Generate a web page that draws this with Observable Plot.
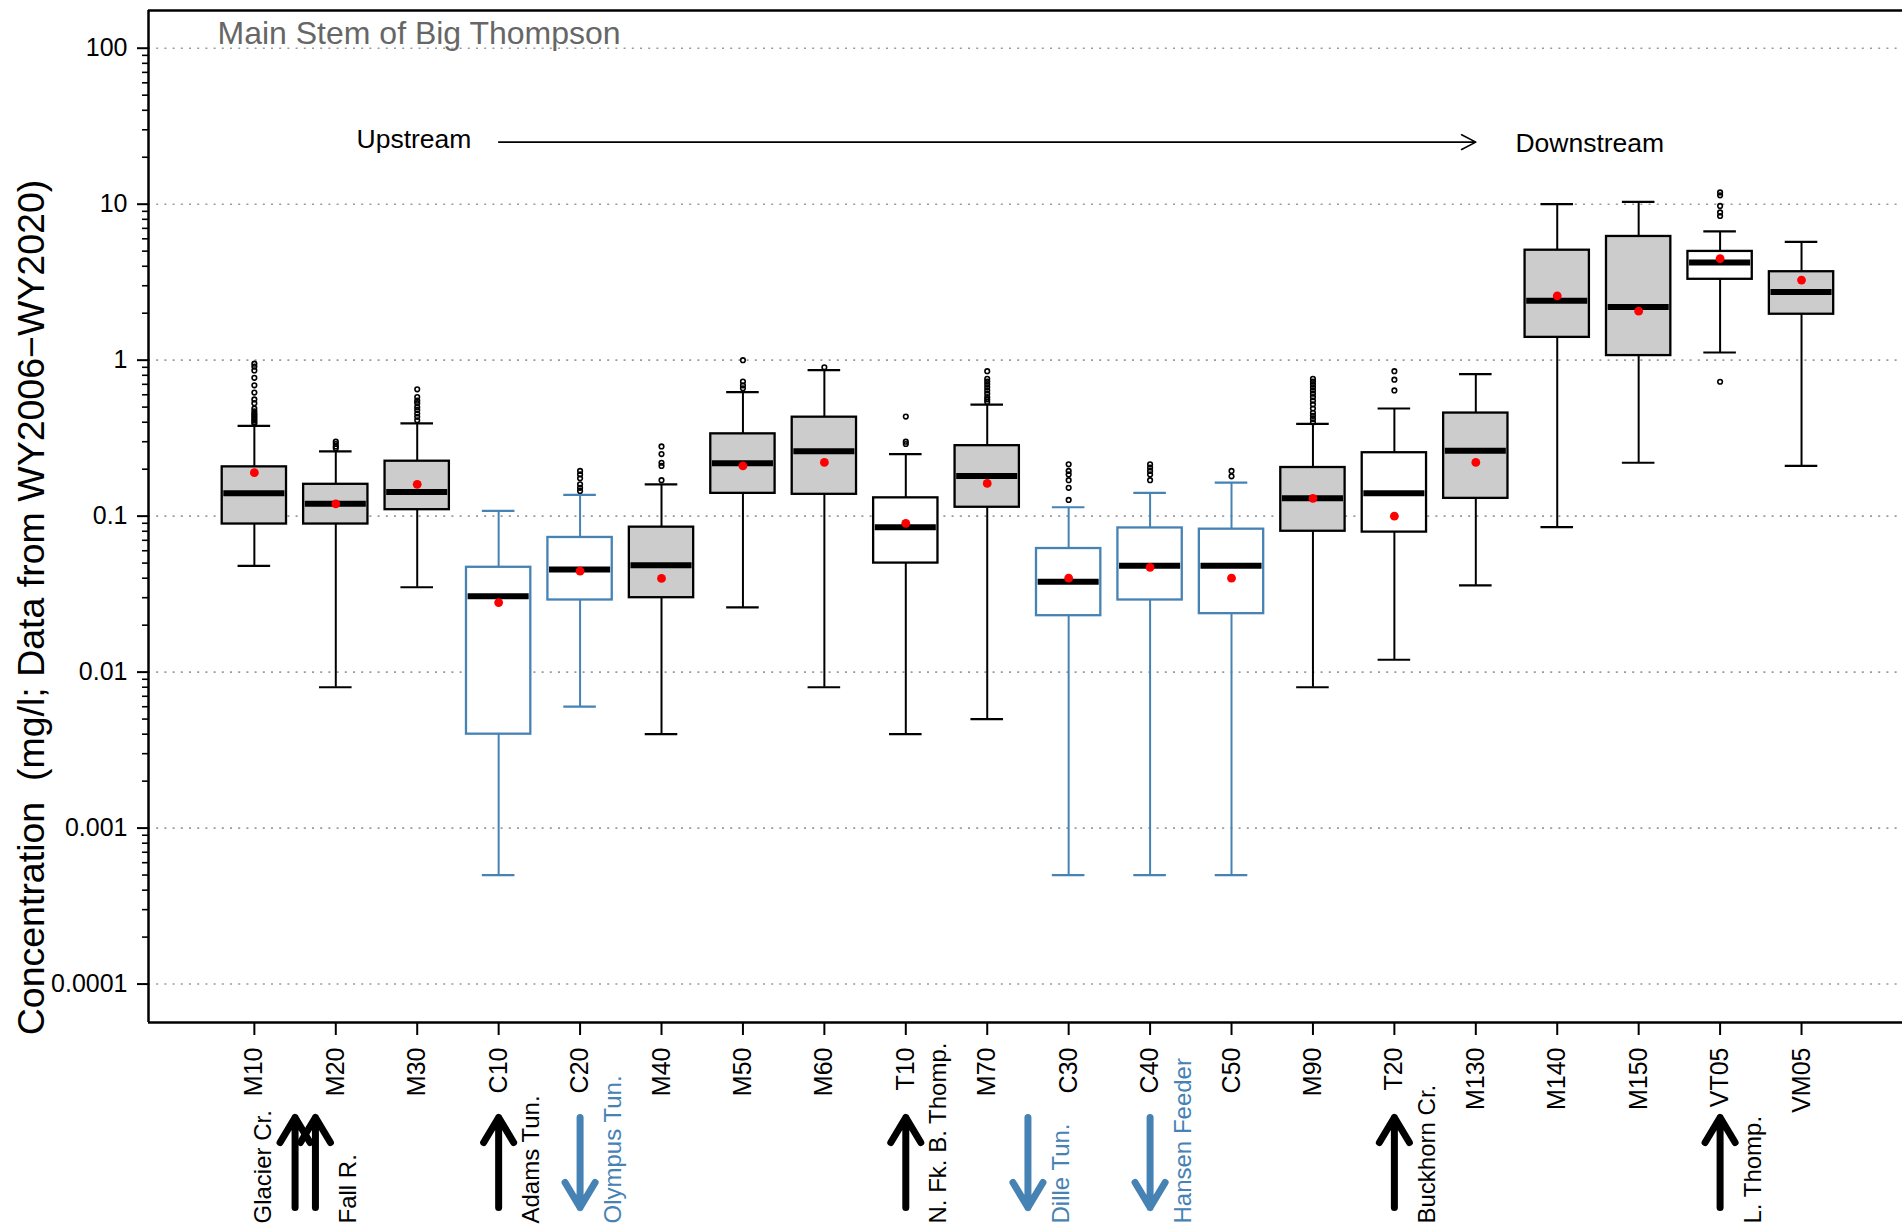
<!DOCTYPE html>
<html>
<head>
<meta charset="utf-8">
<script src="https://cdn.jsdelivr.net/npm/d3@7"></script>
<script src="https://cdn.jsdelivr.net/npm/@observablehq/plot@0.6"></script>
<style>
  html, body { margin: 0; padding: 0; background: #fff; }
  #chart svg { display: block; }
</style>
</head>
<body>
<div id="chart"></div>
<script>
// ---------------- DATA ----------------
const categories = ["M10","M20","M30","C10","C20","M40","M50","M60","T10","M70","C30","C40","C50","M90","T20","M130","M140","M150","VT05","VM05"];

const lowWhisker  = [0.048, 0.008, 0.035, 0.0005, 0.006, 0.004, 0.026, 0.008, 0.004, 0.005, 0.0005, 0.0005, 0.0005, 0.008, 0.012, 0.036, 0.085, 0.22, 1.12, 0.21];
const quartile1   = [0.089, 0.089, 0.110, 0.0040, 0.029, 0.030, 0.140, 0.138, 0.050, 0.114, 0.023, 0.029, 0.0237, 0.080, 0.079, 0.130, 1.40, 1.07, 3.30, 1.97];
const medians     = [0.140, 0.120, 0.143, 0.0306, 0.0455, 0.0485, 0.218, 0.261, 0.085, 0.181, 0.038, 0.048, 0.048, 0.130, 0.140, 0.263, 2.40, 2.19, 4.23, 2.74];
const quartile3   = [0.207, 0.160, 0.225, 0.047, 0.073, 0.085, 0.337, 0.431, 0.131, 0.283, 0.062, 0.084, 0.0825, 0.205, 0.255, 0.458, 5.07, 6.21, 4.98, 3.69];
const highWhisker = [0.379, 0.260, 0.393, 0.108, 0.137, 0.160, 0.623, 0.863, 0.250, 0.519, 0.114, 0.141, 0.164, 0.390, 0.490, 0.814, 10.0, 10.35, 6.69, 5.74];
const means       = [0.190, 0.120, 0.160, 0.0279, 0.0444, 0.0399, 0.210, 0.221, 0.090, 0.162, 0.040, 0.047, 0.040, 0.130, 0.100, 0.221, 2.58, 2.06, 4.48, 3.26];

const outliers = [
  [0.95, 0.91, 0.86, 0.77, 0.69, 0.62, 0.56, 0.53, 0.49, 0.47, 0.455, 0.445, 0.433, 0.423, 0.412, 0.402, 0.392], // M10
  [0.30, 0.29, 0.28, 0.272],                                   // M20
  [0.65, 0.58, 0.55, 0.53, 0.50, 0.48, 0.455, 0.433, 0.412],   // M30
  [],                                                          // C10
  [0.195, 0.185, 0.175, 0.16, 0.152, 0.145],                   // C20
  [0.28, 0.25, 0.22, 0.21, 0.17],                              // M40
  [1.0, 0.73, 0.69, 0.66],                                     // M50
  [0.90],                                                      // M60
  [0.435, 0.30, 0.29],                                         // T10
  [0.85, 0.76, 0.73, 0.70, 0.67, 0.64, 0.61, 0.58, 0.56, 0.54],// M70
  [0.215, 0.195, 0.185, 0.17, 0.152, 0.127],                   // C30
  [0.215, 0.205, 0.195, 0.185, 0.17],                          // C40
  [0.195, 0.18],                                               // C50
  [0.76, 0.73, 0.70, 0.67, 0.64, 0.61, 0.58, 0.55, 0.52, 0.49, 0.46, 0.44, 0.42, 0.40], // M90
  [0.85, 0.75, 0.64],                                          // T20
  [],                                                          // M130
  [],                                                          // M140
  [],                                                          // M150
  [11.9, 11.4, 9.75, 8.85, 8.4, 0.727],                        // VT05
  []                                                           // VM05
];

const yTickValues = [0.0001, 0.001, 0.01, 0.1, 1, 10, 100];
const yTickLabels = ["0.0001", "0.001", "0.01", "0.1", "1", "10", "100"];

const tributaryNames = ["Glacier Cr.", "Fall R.", "Adams Tun.", "Olympus Tun.", "N. Fk. B. Thomp.", "Dille Tun.", "Hansen Feeder", "Buckhorn Cr.", "L. Thomp."];
const tributarySite  = [1.5, 1.75, 4, 5, 9, 10.5, 12, 15, 19];
const tributaryFlow  = ["in", "in", "in", "out", "in", "out", "out", "in", "in"];
const tributaryLabelSide = [-1, 1, 1, 1, 1, 1, 1, 1, 1];

const titleText = "Main Stem of Big Thompson";
const yLabelText = "Concentration\u00a0 (mg/l; Data from WY2006\u2212WY2020)";
const flowFrom = {label: "Upstream", site: 2.96, value: 26};
const flowTo = {label: "Downstream", site: 17.4, value: 24.5};
const flowArrow = {x1: 4, x2: 16, value: 25};

// ---------------- STYLE ----------------
const STEEL = "#4682B4";
const GRAYFILL = "#CCCCCC";
const siteType = name => name.startsWith("C") ? "conduit" : /^V?T/.test(name) ? "tributary" : "main";
const fillOf = {main: GRAYFILL, conduit: "white", tributary: "white"};
const strokeOf = {main: "black", conduit: STEEL, tributary: "black"};

const sites = categories.map((name, i) => ({
  name, pos: i + 1, type: siteType(name),
  low: lowWhisker[i], q1: quartile1[i], median: medians[i], q3: quartile3[i], high: highWhisker[i], mean: means[i]
}));
const outlierRows = sites.flatMap((s, i) => outliers[i].map(v => ({pos: s.pos, value: v})));
const tributaries = tributaryNames.map((name, i) => ({
  name, pos: tributarySite[i], flow: tributaryFlow[i], side: tributaryLabelSide[i]
}));
const minorTicks = [];
for (let k = -4; k <= 1; k++) for (let m = 2; m <= 9; m++) minorTicks.push(+(m * Math.pow(10, k)).toPrecision(3));

const xDomain = [-0.3, 21.24];
const yDomain = [5.67e-5, 174.5];
const BOXHALF = 0.395, CAPHALF = 0.2;

const tribArrowShape = {
  draw(context, l) {
    context.moveTo(0, 0);
    context.lineTo(0, -l);
    context.moveTo(-15, -l + 25);
    context.lineTo(0, -l);
    context.lineTo(15, -l + 25);
  }
};

const font = "'Liberation Sans', Arial, Helvetica, sans-serif";

const chart = Plot.plot({
  width: 1902,
  height: 1226,
  marginLeft: 148,
  marginRight: 0,
  marginTop: 10,
  marginBottom: 204,
  style: {fontFamily: font, background: "white", color: "black"},
  x: {type: "linear", domain: xDomain},
  y: {type: "log", domain: yDomain},
  marks: [
    // dotted grid
    Plot.ruleY(yTickValues, {stroke: "#9a9a9a", strokeDasharray: "2,6.2", strokeWidth: 1.6}),
    // frame (top, bottom, left)
    Plot.ruleY([yDomain[1]], {strokeWidth: 2.5}),
    Plot.ruleY([yDomain[0]], {strokeWidth: 2.5}),
    Plot.ruleX([xDomain[0]], {strokeWidth: 2.5}),
    // y axis
    Plot.axisY(yTickValues, {tickSize: 11, tickPadding: 10, strokeWidth: 2,
      tickFormat: d => yTickLabels[yTickValues.indexOf(d)], fontSize: 25, label: null}),
    Plot.axisY(minorTicks, {tickSize: 6, tickPadding: 0, strokeWidth: 1.6, tickFormat: () => "", label: null}),
    // x axis
    Plot.axisX(sites.map(s => s.pos), {tickSize: 13, tickPadding: 12, strokeWidth: 2, tickRotate: -90,
      tickFormat: p => categories[p - 1], fontSize: 25, label: null}),
    // whiskers
    Plot.ruleX(sites, {x: "pos", y1: "low", y2: "high", stroke: d => strokeOf[d.type], strokeWidth: 2}),
    Plot.ruleY(sites, {y: "low", x1: d => d.pos - CAPHALF, x2: d => d.pos + CAPHALF, stroke: d => strokeOf[d.type], strokeWidth: 2.2}),
    Plot.ruleY(sites, {y: "high", x1: d => d.pos - CAPHALF, x2: d => d.pos + CAPHALF, stroke: d => strokeOf[d.type], strokeWidth: 2.2}),
    // boxes
    Plot.rect(sites, {x1: d => d.pos - BOXHALF, x2: d => d.pos + BOXHALF, y1: "q1", y2: "q3",
      fill: d => fillOf[d.type], stroke: d => strokeOf[d.type], strokeWidth: 2.3}),
    // medians
    Plot.ruleY(sites, {y: "median", x1: d => d.pos - BOXHALF + 0.02, x2: d => d.pos + BOXHALF - 0.02, stroke: "black", strokeWidth: 6}),
    // outliers
    Plot.dot(outlierRows, {x: "pos", y: "value", r: 2.3, stroke: "black", strokeWidth: 1.6, fill: "none"}),
    // means
    Plot.dot(sites, {x: "pos", y: "mean", r: 4.4, fill: "#FF0000", stroke: "none"}),
    // upstream -> downstream
    Plot.arrow([flowArrow], {x1: "x1", x2: "x2", y1: "value", y2: "value", headLength: 15, headAngle: 55, strokeWidth: 1.6, stroke: "black"}),
    Plot.text([flowFrom, flowTo], {x: "site", y: "value", text: "label", fontSize: 26.5, fill: "black"}),
    // title
    Plot.text([titleText], {frameAnchor: "top-left", dx: 69, dy: 11, textAnchor: "start", lineAnchor: "top", fontSize: 32, fill: "#666666"}),
    // y label
    Plot.text([yLabelText], {frameAnchor: "left", rotate: -90, textAnchor: "middle", lineAnchor: "bottom", dx: -105, dy: 91, fontSize: 37.5, fill: "black"}),
    // tributary arrows
    Plot.vector(tributaries, {x: "pos", frameAnchor: "bottom", dy: 140, length: 90, anchor: "middle",
      rotate: d => d.flow === "in" ? 0 : 180, shape: tribArrowShape,
      stroke: d => d.flow === "in" ? "black" : STEEL, strokeWidth: 7, strokeLinecap: "round", strokeLinejoin: "round"}),
    Plot.text(tributaries, {x: d => d.pos + 0.4 * d.side, frameAnchor: "bottom", dx: 8, dy: 201, rotate: -90, textAnchor: "start",
      text: "name", fontSize: 24, fill: d => d.flow === "in" ? "black" : STEEL})
  ]
});

document.getElementById("chart").appendChild(chart);
</script>
</body>
</html>
